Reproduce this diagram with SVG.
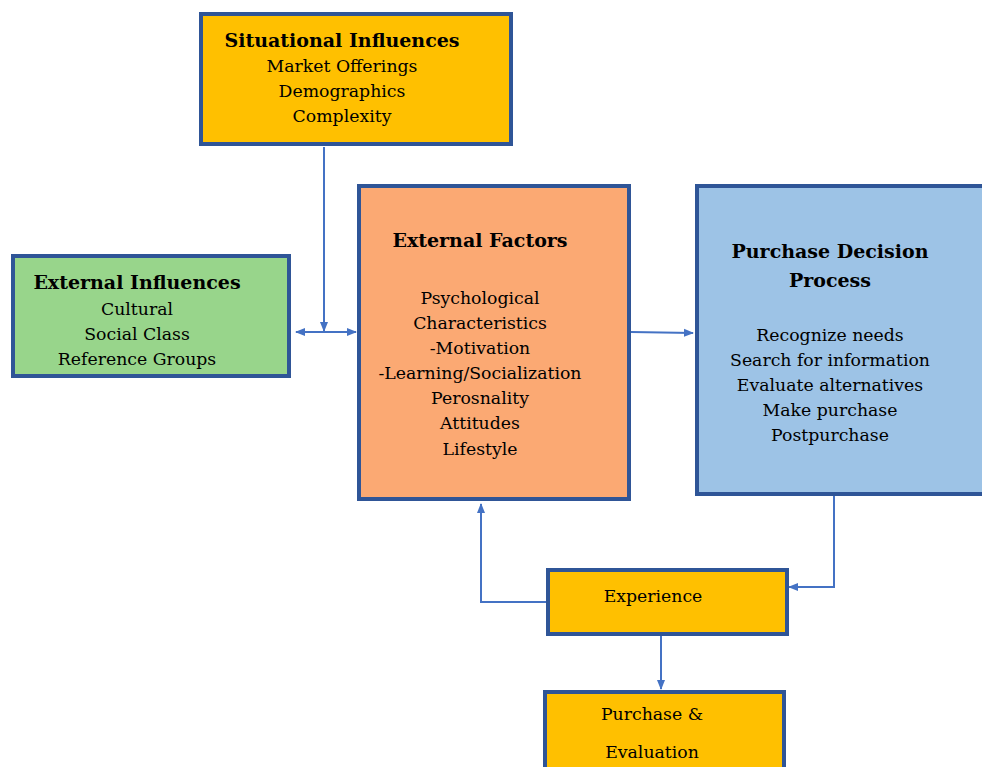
<svg xmlns="http://www.w3.org/2000/svg" width="982" height="767" viewBox="0 0 982 767">
<defs>
<style>
.box{stroke:#2F5597;stroke-width:4}
.t{font-family:'DejaVu Serif',serif;font-size:17.3px;fill:#000;text-anchor:middle}
.b{font-weight:bold;font-size:19px}
.c{fill:none;stroke:#4472C4;stroke-width:2}
</style>
<marker id="ahs" viewBox="0 0 10 10" refX="9" refY="5" markerWidth="10" markerHeight="10" orient="auto-start-reverse" markerUnits="userSpaceOnUse">
<path d="M0,1 L10,5 L0,9 z" fill="#4472C4"/>
</marker>
</defs>
<rect width="982" height="767" fill="#fff"/>
<g id="connectors">
<path class="c" d="M324,147 V331" marker-end="url(#ahs)"/>
<path class="c" d="M296,332 H356" marker-start="url(#ahs)" marker-end="url(#ahs)"/>
<path class="c" d="M631,332 L693,333" marker-end="url(#ahs)"/>
<path class="c" d="M834,496 V587 H789" marker-end="url(#ahs)"/>
<path class="c" d="M546,602 H481 V504" marker-end="url(#ahs)"/>
<path class="c" d="M661,636 V689" marker-end="url(#ahs)"/>
</g>
<g id="situational">
<rect class="box" x="201" y="14" width="310" height="130" fill="#FFC000"/>
<text class="t b" x="342" y="47">Situational Influences</text>
<text class="t" x="342" y="72">Market Offerings</text>
<text class="t" x="342" y="97">Demographics</text>
<text class="t" x="342" y="122">Complexity</text>
</g>
<g id="external-influences">
<rect class="box" x="13" y="256" width="276" height="120" fill="#98D58B"/>
<text class="t b" x="137" y="289">External Influences</text>
<text class="t" x="137" y="315">Cultural</text>
<text class="t" x="137" y="340">Social Class</text>
<text class="t" x="137" y="365">Reference Groups</text>
</g>
<g id="external-factors">
<rect class="box" x="359" y="186" width="270" height="313" fill="#FBA973"/>
<text class="t b" x="480" y="247">External Factors</text>
<text class="t" x="480" y="304">Psychological</text>
<text class="t" x="480" y="329">Characteristics</text>
<text class="t" x="480" y="354">-Motivation</text>
<text class="t" x="480" y="379">-Learning/Socialization</text>
<text class="t" x="480" y="404">Perosnality</text>
<text class="t" x="480" y="429">Attitudes</text>
<text class="t" x="480" y="455">Lifestyle</text>
</g>
<g id="purchase-decision">
<rect class="box" x="697" y="186" width="295" height="308" fill="#9DC3E6"/>
<text class="t b" x="830" y="258">Purchase Decision</text>
<text class="t b" x="830" y="287">Process</text>
<text class="t" x="830" y="341">Recognize needs</text>
<text class="t" x="830" y="366">Search for information</text>
<text class="t" x="830" y="391">Evaluate alternatives</text>
<text class="t" x="830" y="416">Make purchase</text>
<text class="t" x="830" y="441">Postpurchase</text>
</g>
<g id="experience">
<rect class="box" x="548" y="570" width="239" height="64" fill="#FFC000"/>
<text class="t" x="653" y="602">Experience</text>
</g>
<g id="purchase-evaluation">
<rect class="box" x="545" y="692" width="239" height="100" fill="#FFC000"/>
<text class="t" x="652" y="720">Purchase &amp;</text>
<text class="t" x="652" y="758">Evaluation</text>
</g>
</svg>
